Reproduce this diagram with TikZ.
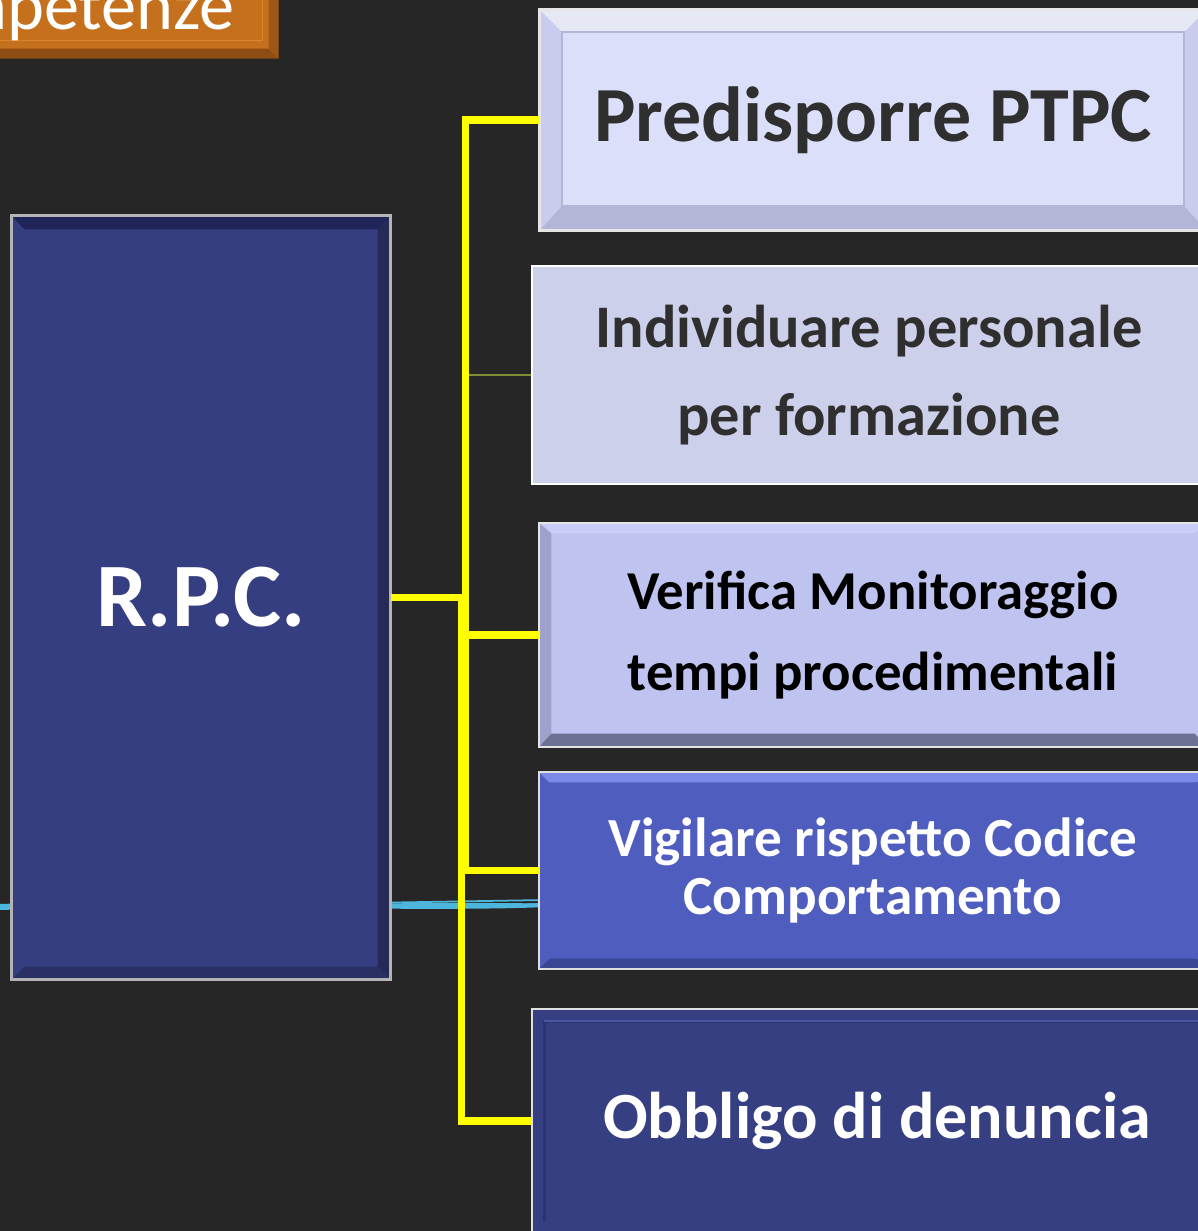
\documentclass[tikz,border=0pt]{standalone}
\usepackage{fontspec}
\setmainfont{Carlito}
\usepackage{tikz}
\usetikzlibrary{calc}
\definecolor{lavagna}{HTML}{262626}
\definecolor{arancio}{HTML}{C4701C}
\definecolor{arancioscuro}{HTML}{8E4D12}
\definecolor{aranciochiaro}{HTML}{D8852E}
\definecolor{blurpc}{HTML}{353E80}
\definecolor{blurpcscuro}{HTML}{1F2558}
\definecolor{blurpcombra}{HTML}{252A57}
\definecolor{cornice}{HTML}{B4B4B4}
\definecolor{lilla}{HTML}{DCDFF9}
\definecolor{lillabordo}{HTML}{C9CCEC}
\definecolor{lillalinea}{HTML}{B3B6D6}
\definecolor{glicine}{HTML}{CDD0EA}
\definecolor{pervinca}{HTML}{BFC3EF}
\definecolor{pervincachiaro}{HTML}{CACDF7}
\definecolor{pervincafianco}{HTML}{9DA1CB}
\definecolor{pervincaombra}{HTML}{6D7193}
\definecolor{indaco}{HTML}{4F5DBF}
\definecolor{indacochiaro}{HTML}{7A8AE6}
\definecolor{indacoombra}{HTML}{3A4594}
\definecolor{notte}{HTML}{363F82}
\definecolor{nottelinea}{HTML}{2B3370}
\definecolor{nottechiaro}{HTML}{4A56A2}
\definecolor{testoscuro}{HTML}{2F2F2F}
\definecolor{giallo}{HTML}{FFFF00}
\definecolor{oliva}{HTML}{7F8C34}
\definecolor{celeste}{HTML}{4DB6DD}
\tikzstyle{riquadro}=[rectangle, inner sep=0pt, align=center]
\tikzstyle{collegamento}=[draw=giallo, line width=2pt]
\tikzstyle{collegamentosottile}=[draw=oliva, line width=0.5pt]
\tikzstyle{tratto}=[draw=celeste, line cap=round]

\begin{document}
\begin{tikzpicture}[x=0.1mm, y=-0.1mm]
	\useasboundingbox (0,0) rectangle (1198,1231);
	\clip (0,0) rectangle (1198,1231);
	\fill[lavagna] (0,0) rectangle (1198,1231);

	% riga celeste dietro i riquadri
	\coordinate (c1) at (0,906);
	\coordinate (c2) at (545,905);
	\draw[tratto, line width=1.2pt] (c1) .. controls (200,902) and (420,910) .. (c2);
	\draw[tratto, line width=0.8pt] (c1) .. controls (250,910) and (380,902) .. (c2);
	\draw[tratto, line width=0.5pt] ($(c1)+(0,-0.3mm)$) -- ($(c2)+(0,0.5mm)$);

	% titolo
	\node[riquadro, fill=arancio, minimum width=30mm, minimum height=10mm] (titolo) at (128,8) {};
	\fill[arancioscuro] (titolo.south west) -- (titolo.south east) -- ++(-1mm,1mm) -- ($(titolo.south west)+(0,1mm)$) -- cycle;
	\fill[arancioscuro!70!arancio] (titolo.south east) -- (titolo.north east) -- ++(-1mm,0) -- ($(titolo.south east)+(-1mm,1mm)$) -- cycle;
	\draw[aranciochiaro, line width=0.4pt] ($(titolo.north east)+(-1.6mm,0)$) |- ($(titolo.south west)+(0,1.8mm)$);
	\node[anchor=base east, text=white, font=\fontsize{20}{24}\selectfont] (titolotesto) at (247,29) {Competenze};

	% R.P.C.
	\node[riquadro, fill=blurpc, minimum width=37.8mm, minimum height=76.3mm, text=white, font=\bfseries\fontsize{25.8}{30}\selectfont] (rpc) at (201,597.5) {R.P.C.};
	\fill[blurpcscuro] (rpc.north west) -- (rpc.north east) -- ++(-1.3mm,-1.4mm) -- ($(rpc.north west)+(1.3mm,-1.4mm)$) -- cycle;
	\fill[blurpcombra] (rpc.north east) -- (rpc.south east) -- ++(-1.3mm,1.3mm) -- ($(rpc.north east)+(-1.3mm,-1.4mm)$) -- cycle;
	\fill[blurpcombra!70!blurpc] (rpc.south west) -- (rpc.south east) -- ++(-1.3mm,1.3mm) -- ($(rpc.south west)+(1.3mm,1.3mm)$) -- cycle;
	\draw[cornice, line width=0.7pt] (rpc.north west) rectangle (rpc.south east);

	% Predisporre PTPC
	\node[riquadro, fill=lilla, minimum width=66.6mm, minimum height=22mm, text=testoscuro, font=\bfseries\fontsize{22.2}{26}\selectfont] (b1) at (873,120) {Predisporre PTPC};
	\fill[lillabordo, even odd rule] (b1.north west) rectangle (b1.south east) ($(b1.north west)+(2.3mm,-2.3mm)$) rectangle ($(b1.south east)+(-2.3mm,2.5mm)$);
	\fill[white!55!lillabordo] (b1.north west) -- (b1.north east) -- ++(-2.3mm,-2.3mm) -- ($(b1.north west)+(2.3mm,-2.3mm)$) -- cycle;
	\fill[lillalinea] (b1.south west) -- (b1.south east) -- ++(-2.3mm,2.5mm) -- ($(b1.south west)+(2.3mm,2.5mm)$) -- cycle;
	\draw[lillalinea, line width=0.5pt] ($(b1.north west)+(2.3mm,-2.3mm)$) rectangle ($(b1.south east)+(-2.3mm,2.5mm)$);
	\draw[white!80!gray, line width=0.7pt] (b1.north west) rectangle (b1.south east);

	% Individuare personale
	\node[riquadro, fill=glicine, draw=white, line width=0.7pt, minimum width=67.4mm, minimum height=21.8mm, text=testoscuro, font=\bfseries\fontsize{17.2}{25}\selectfont] (b2) at (869,375) {Individuare personale\\per formazione};

	% Verifica Monitoraggio
	\node[riquadro, fill=pervinca, minimum width=66.6mm, minimum height=22.2mm, text=black, font=\bfseries\fontsize{15.6}{23.3}\selectfont] (b3) at (873,635) {Verifica Monitoraggio\\tempi procedimentali};
	\fill[pervincachiaro] (b3.north west) -- (b3.north east) -- ++(-1.2mm,-1mm) -- ($(b3.north west)+(1.2mm,-1mm)$) -- cycle;
	\fill[pervincafianco] (b3.north west) -- (b3.south west) -- ++(1.2mm,1.3mm) -- ($(b3.north west)+(1.2mm,-1mm)$) -- cycle;
	\fill[pervincaombra] (b3.south west) -- (b3.south east) -- ++(-1.2mm,1.3mm) -- ($(b3.south west)+(1.2mm,1.3mm)$) -- cycle;
	\draw[white!80!gray, line width=0.6pt] (b3.north west) rectangle (b3.south east);

	% Vigilare rispetto Codice
	\node[riquadro, fill=indaco, minimum width=66.6mm, minimum height=19.5mm, text=white, font=\bfseries\fontsize{15.7}{16.5}\selectfont] (b4) at (873,870.5) {Vigilare rispetto Codice\\Comportamento};
	\fill[indacochiaro] (b4.north west) -- (b4.north east) -- ++(-1mm,-1mm) -- ($(b4.north west)+(1mm,-1mm)$) -- cycle;
	\fill[indacoombra] (b4.south west) -- (b4.south east) -- ++(-1mm,1mm) -- ($(b4.south west)+(1mm,1mm)$) -- cycle;
	\draw[white!75!gray, line width=0.6pt] (b4.north west) rectangle (b4.south east);

	% Obbligo di denuncia
	\node[riquadro, fill=notte, minimum width=68.8mm, minimum height=22.2mm, text=white, font=\bfseries\fontsize{18.8}{22}\selectfont] (b5) at (877,1121) {Obbligo di denuncia};
	\draw[nottelinea, line width=0.8pt] ($(b5.south west)+(1.2mm,1.2mm)$) |- ($(b5.north east)+(-1.2mm,-1.2mm)$);
	\draw[nottechiaro, line width=0.6pt] ($(b5.north west)+(1.2mm,-1.2mm)$) -- ($(b5.north east)+(-1.2mm,-1.2mm)$);
	\draw[white!75!gray, line width=0.6pt] (b5.north west) rectangle (b5.south east);

	% collegamenti
	\path[collegamentosottile] (rpc.east) -- ++(72,0) |- (b2.west);
	\path[collegamento]
		(rpc.east) -- ++(75,0) |- (b1.west)
		(rpc.east) -- ++(75,0) |- (b3.west)
		(rpc.east) -- ++(75,0) |- (b4.west)
		(rpc.east) -- ++(71,0) |- (b5.west);
\end{tikzpicture}
\end{document}
